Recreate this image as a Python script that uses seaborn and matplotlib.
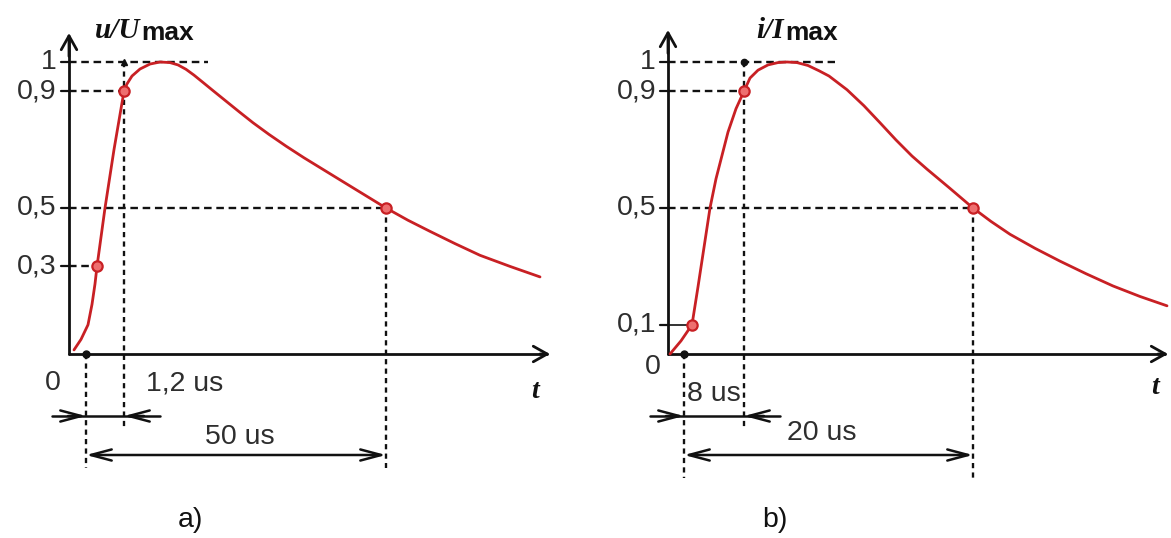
import matplotlib
matplotlib.use("Agg")
import matplotlib.pyplot as plt
import seaborn as sns
import pandas as pd

# ---------------------------------------------------------------
# Normalised impulse waveforms on a schematic time axis (not to scale)
# ---------------------------------------------------------------
# a) voltage impulse u/Umax
t_u = [-1.2, -0.5, 0.2, 0.6, 0.9, 1.1, 1.9, 2.8, 3.8, 4.1, 4.6, 5.4, 6.4, 7.4,
       8.4, 9.2, 10.0, 10.8, 11.7, 12.7, 14.0, 15.3, 16.7, 18.3, 20.0, 21.8,
       23.8, 25.8, 27.9, 30.0, 32.2, 34.4, 36.9, 39.4, 42.4, 45.4]
u_rel = [0.014, 0.05, 0.10, 0.17, 0.24, 0.30, 0.50, 0.70, 0.90, 0.925, 0.952,
         0.976, 0.993, 1.0, 0.998, 0.99, 0.975, 0.955, 0.93, 0.902, 0.866, 0.83,
         0.792, 0.752, 0.712, 0.672, 0.630, 0.588, 0.544, 0.50, 0.458, 0.42,
         0.378, 0.338, 0.30, 0.264]
u_mark_t = [1.1, 3.8, 30.0]
u_mark_v = [0.3, 0.9, 0.5]
u_ticks = [1.0, 0.9, 0.5, 0.3]
u_tick_labels = ["1", "0,9", "0,5", "0,3"]
u_front_label = "1,2 us"
u_tail_label = "50 us"

# b) current impulse i/Imax
t_i = [-1.4, -0.3, 0.8, 1.4, 2.0, 2.6, 3.2, 3.8, 4.4, 5.2, 6.0, 6.6, 7.4, 8.4,
       9.4, 10.3, 11.3, 12.4, 13.5, 14.5, 16.3, 18.0, 19.6, 21.2, 22.8, 24.3,
       26.5, 28.9, 30.7, 32.6, 35.1, 37.6, 40.2, 42.9, 45.6, 48.3]
i_rel = [0.0, 0.045, 0.10, 0.23, 0.365, 0.50, 0.60, 0.68, 0.76, 0.84, 0.90,
         0.945, 0.972, 0.99, 0.998, 1.0, 0.998, 0.988, 0.97, 0.952, 0.905, 0.85,
         0.792, 0.733, 0.678, 0.633, 0.57, 0.50, 0.454, 0.41, 0.362, 0.318,
         0.275, 0.233, 0.197, 0.165]
i_mark_t = [0.8, 6.0, 28.9]
i_mark_v = [0.1, 0.9, 0.5]
i_ticks = [1.0, 0.9, 0.5, 0.1]
i_tick_labels = ["1", "0,9", "0,5", "0,1"]
i_front_label = "8 us"
i_tail_label = "20 us"

sns.set_theme(style="white")
plt.rcParams["font.family"] = ["Liberation Sans", "DejaVu Sans"]

W, H, DPI = 1171, 538, 100
fig = plt.figure(figsize=(W / DPI, H / DPI), dpi=DPI)
fig.patch.set_facecolor("white")

RED = "#c82024"
INK = "#111111"
LABEL = "#2e2e2e"
Y0, YS = 354, 292          # pixel row of zero level, pixels per unit
FS = 20.5


def v_of(py):
    return (Y0 - py) / YS


def make_axes(left_px, width_px, origin_px):
    ax = fig.add_axes([left_px / W, 0, width_px / W, 1])
    ax.set_xlim((left_px - origin_px) / 10, (left_px + width_px - origin_px) / 10)
    ax.set_ylim(v_of(H), v_of(0))
    ax.axis("off")
    return ax


def hdash(ax, x0, x1, y):
    ax.plot([x0, x1], [y, y], color=INK, lw=1.7, dashes=(3.2, 2.0),
            dash_capstyle="butt", zorder=2)


def vdash(ax, x, y0, y1):
    ax.plot([x, x], [y0, y1], color=INK, lw=1.7, dashes=(2.2, 1.8),
            dash_capstyle="butt", zorder=2)


def arrow(ax, tail, tip, style, ms=20, lw=1.8):
    ax.annotate("", xy=tip, xytext=tail,
                arrowprops=dict(arrowstyle=style, lw=lw, color=INK,
                                shrinkA=0, shrinkB=0, mutation_scale=ms),
                zorder=4)


def panel(ax, axis_x, x_end, y_top, t, v, mark_t, mark_v, ticks, tick_labels,
          front_label, tail_label, var, cap, zero_pos, front_pos, tail_pos,
          title_x, t_pos, letter, letter_x, solid_low_tick, peak_dash_end,
          bottom):
    # axes with open arrowheads
    ax.plot([axis_x, axis_x], [0, y_top - 0.02], color=INK, lw=2.0, zorder=3)
    ax.plot([axis_x, x_end - 0.3], [0, 0], color=INK, lw=2.0, zorder=3)
    arrow(ax, (axis_x, y_top - 0.08), (axis_x, y_top),
          "->,head_length=0.5,head_width=0.28", lw=2.0)
    arrow(ax, (x_end - 1.0, 0), (x_end, 0),
          "->,head_length=0.5,head_width=0.28", lw=2.0)

    t_front, t_tail = mark_t[1], mark_t[2]

    # level ticks and labels
    for tv, lab in zip(ticks, tick_labels):
        ax.plot([axis_x - 0.8, axis_x], [tv, tv], color=INK, lw=1.6, zorder=3)
        ax.text(axis_x - 1.2, tv, lab, ha="right", va="center",
                fontsize=FS, color=LABEL)
    ax.text(zero_pos[0], zero_pos[1], "0", ha="center", va="center",
            fontsize=FS, color=LABEL)

    # dashed guides to the marked levels
    hdash(ax, axis_x, peak_dash_end, 1.0)
    hdash(ax, axis_x, t_front, 0.9)
    hdash(ax, axis_x, t_tail, 0.5)
    low_t, low_v = mark_t[0], mark_v[0]
    if solid_low_tick:
        ax.plot([axis_x, low_t], [low_v, low_v], color=INK, lw=1.2, zorder=2)
    else:
        hdash(ax, axis_x, low_t, low_v)

    vdash(ax, 0, 0, bottom)
    vdash(ax, t_front, 1.0, -0.25)
    vdash(ax, t_tail, 0.5, bottom)

    # waveform and its reference points
    df = pd.DataFrame({"t": t, "v": v})
    sns.lineplot(data=df, x="t", y="v", ax=ax, color=RED, lw=2.0,
                 sort=False, zorder=5)
    mk = pd.DataFrame({"t": mark_t, "v": mark_v})
    sns.scatterplot(data=mk, x="t", y="v", ax=ax, s=55, color="#ee6f6f",
                    edgecolor=RED, linewidth=1.6, zorder=6)
    ax.plot([0], [0], "o", color=INK, ms=5, zorder=7)
    if var == "u":
        ax.plot([t_front], [1.0], "^", color=INK, ms=5, zorder=7)
    else:
        ax.plot([t_front], [1.0], "o", color=INK, ms=4.5, zorder=7)

    # dimension arrows
    row1, row2 = v_of(416), v_of(455)
    ax.plot([-3.4, t_front + 3.6], [row1, row1], color=INK, lw=1.8, zorder=3)
    arrow(ax, (-1.8, row1), (0, row1), "->,head_length=0.75,head_width=0.2")
    arrow(ax, (t_front + 2.0, row1), (t_front, row1),
          "->,head_length=0.75,head_width=0.2")
    arrow(ax, (0, row2), (t_tail, row2), "<->,head_length=0.75,head_width=0.2")
    ax.text(front_pos[0], front_pos[1], front_label, ha="left", va="center",
            fontsize=FS, color=LABEL)
    ax.text(tail_pos[0], tail_pos[1], tail_label, ha="left", va="center",
            fontsize=FS, color=LABEL)

    # axis names
    ax.text(title_x, v_of(38), f"{var}/{cap}", ha="right", va="baseline",
            fontsize=21, fontweight="bold", fontstyle="italic",
            family="Liberation Serif", color=INK)
    ax.text(title_x + 0.15, v_of(40), "max", ha="left", va="baseline",
            fontsize=19, fontweight="bold", color=INK)
    ax.text(t_pos[0], t_pos[1], "t", ha="center", va="center", fontsize=20,
            fontweight="bold", fontstyle="italic", family="Liberation Serif",
            color=INK)
    ax.text(letter_x, v_of(520), letter, ha="center", va="center",
            fontsize=FS, color=INK)


ax_a = make_axes(0, 585, 86)
panel(ax_a, axis_x=-1.7, x_end=46.4, y_top=v_of(33), t=t_u, v=u_rel,
      mark_t=u_mark_t, mark_v=u_mark_v, ticks=u_ticks, tick_labels=u_tick_labels,
      front_label=u_front_label, tail_label=u_tail_label, var="u", cap="U",
      zero_pos=(-3.3, v_of(383)), front_pos=(6.0, v_of(383)),
      tail_pos=(11.9, v_of(437)), title_x=5.4, t_pos=(44.9, v_of(392)),
      letter="a)", letter_x=10.4, solid_low_tick=False, peak_dash_end=12.2,
      bottom=-0.39)

ax_b = make_axes(585, 586, 684)
panel(ax_b, axis_x=-1.6, x_end=48.4, y_top=v_of(30), t=t_i, v=i_rel,
      mark_t=i_mark_t, mark_v=i_mark_v, ticks=i_ticks, tick_labels=i_tick_labels,
      front_label=i_front_label, tail_label=i_tail_label, var="i", cap="I",
      zero_pos=(-3.1, v_of(367)), front_pos=(0.3, v_of(394)),
      tail_pos=(10.3, v_of(433)), title_x=10.0, t_pos=(47.1, v_of(387)),
      letter="b)", letter_x=9.1, solid_low_tick=True, peak_dash_end=15.1,
      bottom=-0.425)

fig.savefig("out.png", dpi=DPI, facecolor="white")
